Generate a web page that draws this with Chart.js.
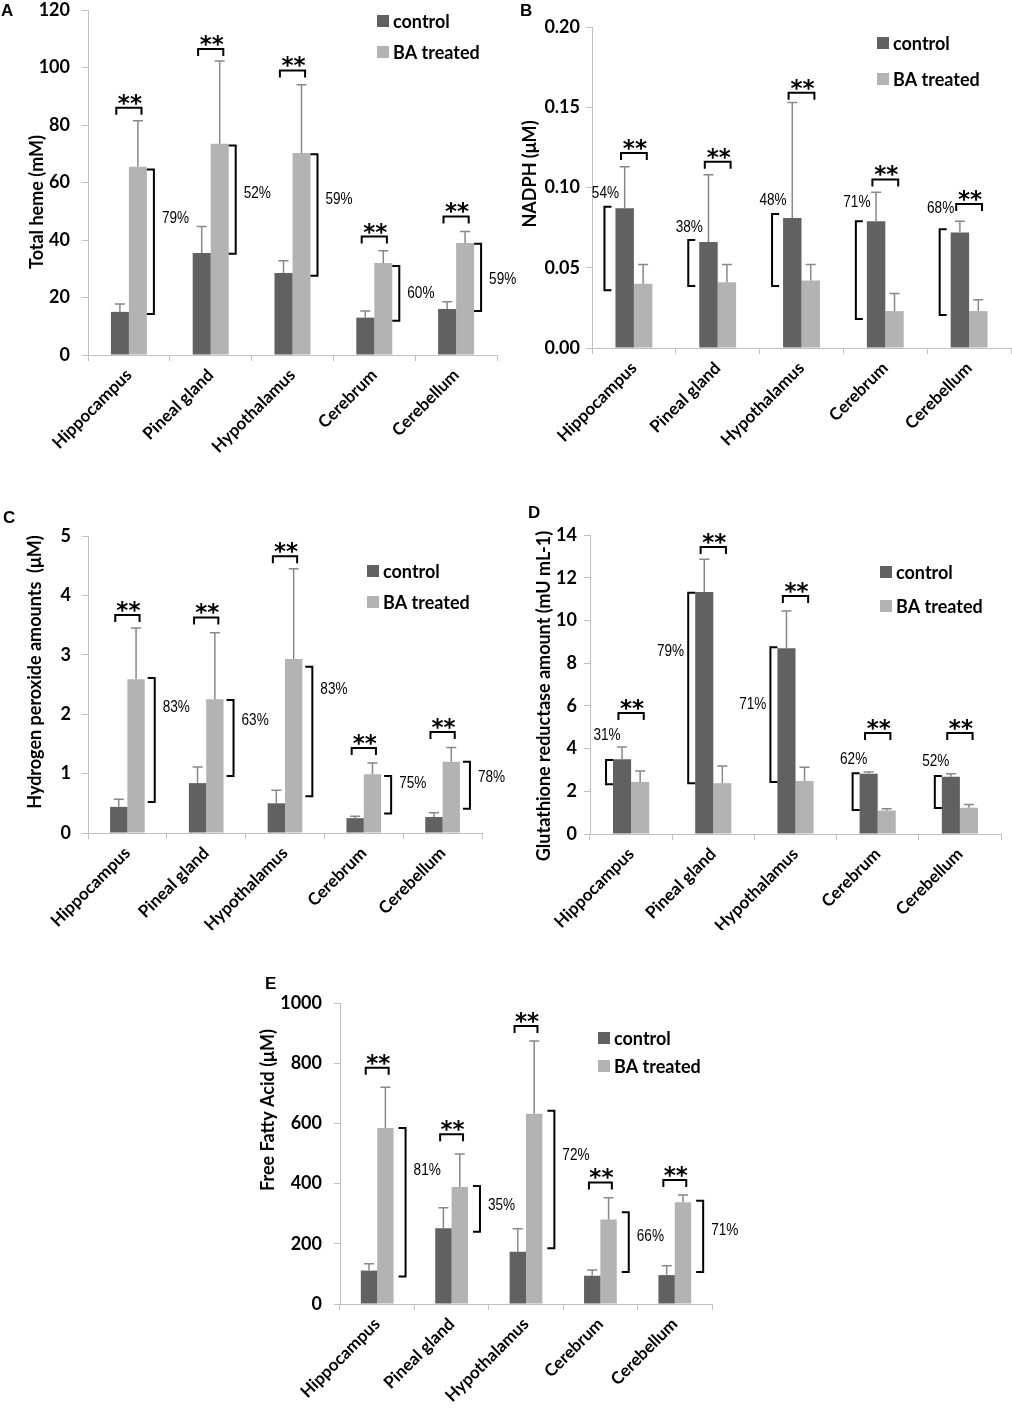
<!DOCTYPE html>
<html><head><meta charset="utf-8">
<script src="https://cdn.jsdelivr.net/npm/chart.js@4"></script>
<style>
html,body{margin:0;padding:0;background:#fff;}
body{width:1012px;height:1411px;position:relative;overflow:hidden;}
canvas{position:absolute;}
.lab{position:absolute;font:bold 17px "Liberation Sans",Arial,sans-serif;line-height:17px;color:#000;}
</style></head><body>
<canvas id="cA"></canvas>
<canvas id="cB"></canvas>
<canvas id="cC"></canvas>
<canvas id="cD"></canvas>
<canvas id="cE"></canvas>
<div class="lab" style="left:1px;top:2px">A</div>
<div class="lab" style="left:520px;top:2px">B</div>
<div class="lab" style="left:3px;top:509px">C</div>
<div class="lab" style="left:528px;top:504px">D</div>
<div class="lab" style="left:265px;top:975px">E</div>
<script>
// ---------- data ----------
const categories = ['Hippocampus', 'Pineal gland', 'Hypothalamus', 'Cerebrum', 'Cerebellum'];
const seriesNames = ['control', 'BA treated'];

// A: Total heme (mM)
const hemeTicks = [0, 20, 40, 60, 80, 100, 120];
const hemeControl = [15, 35.5, 28.5, 13, 16];
const hemeControlSD = [2.7, 9.2, 4.3, 2.3, 2.5];
const hemeBA = [65.5, 73.5, 70.3, 32, 39];
const hemeBASD = [16, 28.8, 23.7, 4.3, 4];
const hemeStarY = [86, 106.4, 99, 41.2, 48.2];
const hemeDropTop = [64.5, 72.9, 69.8, 31, 38.7];
const hemeDropBottom = [14.3, 35.2, 27.6, 11.9, 15.3];
const hemeDropText = ['79%', '52%', '59%', '60%', '59%'];
const hemeDropTextY = [47.4, 56.2, 54, 21.3, 26.5];

// B: NADPH (uM)
const nadphTicks = [0, 0.05, 0.10, 0.15, 0.20];
const nadphControl = [0.087, 0.066, 0.081, 0.079, 0.072];
const nadphControlSD = [0.026, 0.042, 0.072, 0.018, 0.007];
const nadphBA = [0.040, 0.041, 0.042, 0.023, 0.023];
const nadphBASD = [0.012, 0.011, 0.010, 0.011, 0.007];
const nadphStarY = [0.1215, 0.116, 0.159, 0.105, 0.0897];
const nadphDropTop = [0.088, 0.0673, 0.0835, 0.079, 0.074];
const nadphDropBottom = [0.036, 0.0386, 0.0386, 0.018, 0.0205];
const nadphDropText = ['54%', '38%', '48%', '71%', '68%'];
const nadphDropTextY = [0.0966, 0.0754, 0.0922, 0.091, 0.0872];

// C: Hydrogen peroxide (uM)
const h2o2Ticks = [0, 1, 2, 3, 4, 5];
const h2o2Control = [0.44, 0.84, 0.5, 0.25, 0.27];
const h2o2ControlSD = [0.13, 0.27, 0.22, 0.03, 0.07];
const h2o2BA = [2.59, 2.25, 2.93, 0.99, 1.2];
const h2o2BASD = [0.86, 1.12, 1.52, 0.19, 0.24];
const h2o2StarY = [3.67, 3.63, 4.66, 1.43, 1.7];
const h2o2DropTop = [2.61, 2.24, 2.8, 0.96, 1.2];
const h2o2DropBottom = [0.52, 0.96, 0.62, 0.33, 0.41];
const h2o2DropText = ['83%', '63%', '83%', '75%', '78%'];
const h2o2DropTextY = [2.12, 1.89, 2.42, 0.84, 0.94];

// D: Glutathione reductase (mU mL-1)
const grTicks = [0, 2, 4, 6, 8, 10, 12, 14];
const grControl = [3.5, 11.33, 8.7, 2.82, 2.68];
const grControlSD = [0.57, 1.54, 1.74, 0.08, 0.14];
const grBA = [2.44, 2.38, 2.48, 1.1, 1.23];
const grBASD = [0.51, 0.8, 0.65, 0.08, 0.15];
const grStarY = [5.66, 13.44, 11.14, 4.73, 4.73];
const grDropTop = [3.47, 11.3, 8.75, 2.85, 2.72];
const grDropBottom = [2.33, 2.38, 2.43, 1.12, 1.22];
const grDropText = ['31%', '79%', '71%', '62%', '52%'];
const grDropTextY = [4.63, 8.57, 6.09, 3.51, 3.42];

// E: Free fatty acid (uM)
const ffaTicks = [0, 200, 400, 600, 800, 1000];
const ffaControl = [111, 252, 174, 94, 96];
const ffaControlSD = [23, 68, 76, 19, 31];
const ffaBA = [585, 389, 632, 281, 338];
const ffaBASD = [135, 109, 242, 72, 24];
const ffaStarY = [785, 564, 924, 404, 412];
const ffaDropTop = [585, 392, 642, 305, 343];
const ffaDropBottom = [91, 240, 185, 106, 106];
const ffaDropText = ['81%', '35%', '72%', '66%', '71%'];
const ffaDropTextY = [445, 329, 495, 226, 246];

// ---------- styles ----------
const C_CTRL = '#616161', C_BA = '#b3b3b3', C_AXIS = '#c0c0c0', C_ERR = '#888888';
const FONT = 'Lato, "Open Sans", sans-serif';
Chart.defaults.font.family = FONT;
Chart.defaults.color = '#000';

function makeAnnot(cfg, ox, oy) {
  return {
    id: 'annot_' + cfg.id,
    afterDatasetsDraw(chart) {
      const ctx = chart.ctx, ys = chart.scales.y;
      const m0 = chart.getDatasetMeta(0), m1 = chart.getDatasetMeta(1);
      const d0 = chart.data.datasets[0].data, d1 = chart.data.datasets[1].data;
      ctx.save();
      // error bars (upper only)
      ctx.strokeStyle = C_ERR; ctx.lineWidth = 1.5; ctx.lineCap = 'butt';
      [[m0, d0, cfg.sd0], [m1, d1, cfg.sd1]].forEach(([m, d, sd]) => {
        m.data.forEach((el, j) => {
          const yt = ys.getPixelForValue(d[j] + sd[j]);
          ctx.beginPath();
          ctx.moveTo(el.x, el.y); ctx.lineTo(el.x, yt);
          ctx.moveTo(el.x - 5, yt); ctx.lineTo(el.x + 5, yt);
          ctx.stroke();
        });
      });
      // significance brackets with **
      ctx.strokeStyle = '#000'; ctx.lineWidth = 2; ctx.lineJoin = 'miter';
      ctx.fillStyle = '#000';
      m0.data.forEach((e0, j) => {
        const e1 = m1.data[j];
        const bw = e0.width;
        const x1 = e0.x - 0.2 * bw, x2 = e1.x + 0.2 * bw;
        const y = ys.getPixelForValue(cfg.starY[j]);
        ctx.beginPath();
        ctx.moveTo(x1, y + 7); ctx.lineTo(x1, y); ctx.lineTo(x2, y); ctx.lineTo(x2, y + 7);
        ctx.stroke();
        ctx.font = 'bold 23px "DejaVu Sans", sans-serif';
        ctx.textAlign = 'center'; ctx.textBaseline = 'alphabetic';
        ctx.fillText('**', (x1 + x2) / 2 + 1, y + 3);
      });
      // percentage brackets
      m0.data.forEach((e0, j) => {
        const e1 = m1.data[j];
        const yT = ys.getPixelForValue(cfg.dropTop[j]);
        const yB = ys.getPixelForValue(cfg.dropBottom[j]);
        const yL = ys.getPixelForValue(cfg.dropTextY[j]);
        let x, arm, lx, align;
        if (cfg.side === 'right') {
          x = e1.x + e1.width / 2 + cfg.gap; arm = -7;
          lx = x + 8; align = 'left';
        } else {
          x = e0.x - e0.width / 2 - cfg.gap; arm = 7;
          if (yL > yT + 4) { lx = x - 4; align = 'right'; } else { lx = x + 1; align = 'center'; }
        }
        ctx.beginPath();
        ctx.moveTo(x + arm, yT); ctx.lineTo(x, yT); ctx.lineTo(x, yB); ctx.lineTo(x + arm, yB);
        ctx.stroke();
        ctx.save();
        ctx.translate(lx, yL);
        ctx.scale(0.8, 1);
        ctx.font = '17px "Liberation Sans", Arial, sans-serif';
        ctx.textAlign = align; ctx.textBaseline = 'middle';
        ctx.fillText(cfg.dropText[j], 0, 0);
        ctx.restore();
      });
      ctx.restore();
    },
    afterDraw(chart) {
      const ctx = chart.ctx;
      ctx.save();
      // legend
      const lg = cfg.legend;
      [[C_CTRL, seriesNames[0], lg.y0], [C_BA, seriesNames[1], lg.y1]].forEach(([c, t, y]) => {
        ctx.fillStyle = c;
        ctx.fillRect(lg.x - ox, y - oy - 6, 12, 12);
        ctx.fillStyle = '#000';
        ctx.font = 'bold 18px ' + FONT;
        ctx.textAlign = 'left'; ctx.textBaseline = 'middle';
        ctx.fillText(t, lg.x - ox + 16, y - oy + 1);
      });
      // y title
      const yt = cfg.ytitle;
      ctx.translate(yt.x - ox, yt.y - oy);
      ctx.rotate(-Math.PI / 2);
      ctx.font = 'bold 18px ' + FONT;
      ctx.textAlign = 'center'; ctx.textBaseline = 'middle';
      ctx.fillText(yt.text, 0, 0);
      ctx.restore();
    }
  };
}

function makePanel(cfg) {
  const cv = document.getElementById(cfg.id);
  const [cx, cy, W, H] = cfg.canvas;
  cv.width = W; cv.height = H;
  cv.style.left = cx + 'px'; cv.style.top = cy + 'px';
  const l = cfg.area[0] - cx, t = cfg.area[1] - cy, r = cfg.area[2] - cx, b = cfg.area[3] - cy;
  new Chart(cv, {
    type: 'bar',
    data: {
      labels: categories,
      datasets: [
        { label: seriesNames[0], data: cfg.ctrl, backgroundColor: C_CTRL, borderWidth: 0 },
        { label: seriesNames[1], data: cfg.ba, backgroundColor: C_BA, borderWidth: 0 }
      ]
    },
    options: {
      responsive: false, animation: false, devicePixelRatio: 1,
      layout: { padding: { left: 0, top: t, right: W - r, bottom: 0 } },
      categoryPercentage: 0.44, barPercentage: 1,
      plugins: { legend: { display: false }, tooltip: { enabled: false }, title: { display: false } },
      scales: {
        x: {
          grid: { offset: true, drawOnChartArea: false, color: C_AXIS, tickLength: 6, lineWidth: 1 },
          border: { color: C_AXIS, width: 1 },
          ticks: { autoSkip: false, minRotation: 45, maxRotation: 45, padding: 4, color: '#000',
                   font: { family: FONT, size: 17, weight: 'bold' } },
          afterFit: s => { s.height = H - b; }
        },
        y: {
          min: cfg.ticks[0], max: cfg.ticks[cfg.ticks.length - 1],
          afterBuildTicks: s => { s.ticks = cfg.ticks.map(v => ({ value: v })); },
          grid: { drawOnChartArea: false, color: C_AXIS, tickLength: 6, lineWidth: 1 },
          border: { color: C_AXIS, width: 1 },
          ticks: { padding: cfg.tickPad, color: '#000', font: { family: FONT, size: 18, weight: 'bold' },
                   callback: v => cfg.fmt(v) },
          afterFit: s => { s.width = l; }
        }
      }
    },
    plugins: [makeAnnot(cfg, cx, cy)]
  });
}

makePanel({ id: 'cA', canvas: [0, -16, 520, 486], area: [88, 10, 497, 355], ticks: hemeTicks, fmt: v => String(v), tickPad: 12,
  ctrl: hemeControl, ba: hemeBA, sd0: hemeControlSD, sd1: hemeBASD, starY: hemeStarY,
  dropTop: hemeDropTop, dropBottom: hemeDropBottom, dropText: hemeDropText, dropTextY: hemeDropTextY,
  side: 'right', gap: 7, legend: { x: 377, y0: 21, y1: 52 },
  ytitle: { text: 'Total heme (mM)', x: 37, y: 202 } });

makePanel({ id: 'cB', canvas: [500, -10, 512, 480], area: [592, 27, 1011, 348], ticks: nadphTicks, fmt: v => v.toFixed(2), tickPad: 6,
  ctrl: nadphControl, ba: nadphBA, sd0: nadphControlSD, sd1: nadphBASD, starY: nadphStarY,
  dropTop: nadphDropTop, dropBottom: nadphDropBottom, dropText: nadphDropText, dropTextY: nadphDropTextY,
  side: 'left', gap: 11, legend: { x: 877, y0: 43, y1: 79 },
  ytitle: { text: 'NADPH (\u03bcM)', x: 530, y: 174 } });

makePanel({ id: 'cC', canvas: [0, 490, 520, 440], area: [88, 536, 482, 833], ticks: h2o2Ticks, fmt: v => String(v), tickPad: 11,
  ctrl: h2o2Control, ba: h2o2BA, sd0: h2o2ControlSD, sd1: h2o2BASD, starY: h2o2StarY,
  dropTop: h2o2DropTop, dropBottom: h2o2DropBottom, dropText: h2o2DropText, dropTextY: h2o2DropTextY,
  side: 'right', gap: 10, legend: { x: 367, y0: 571, y1: 602 },
  ytitle: { text: 'Hydrogen peroxide amounts  (\u03bcM)', x: 35, y: 672 } });

makePanel({ id: 'cD', canvas: [500, 490, 512, 440], area: [590, 535, 1001, 834], ticks: grTicks, fmt: v => String(v), tickPad: 7,
  ctrl: grControl, ba: grBA, sd0: grControlSD, sd1: grBASD, starY: grStarY,
  dropTop: grDropTop, dropBottom: grDropBottom, dropText: grDropText, dropTextY: grDropTextY,
  side: 'left', gap: 7, legend: { x: 880, y0: 572, y1: 606 },
  ytitle: { text: 'Glutathione reductase amount (mU mL-1)', x: 544, y: 696 } });

makePanel({ id: 'cE', canvas: [240, 950, 520, 461], area: [340, 1003, 712, 1304], ticks: ffaTicks, fmt: v => String(v), tickPad: 12,
  ctrl: ffaControl, ba: ffaBA, sd0: ffaControlSD, sd1: ffaBASD, starY: ffaStarY,
  dropTop: ffaDropTop, dropBottom: ffaDropBottom, dropText: ffaDropText, dropTextY: ffaDropTextY,
  side: 'right', gap: 12, legend: { x: 598, y0: 1038, y1: 1066 },
  ytitle: { text: 'Free Fatty Acid (\u03bcM)', x: 268, y: 1110 } });
</script>
</body></html>
